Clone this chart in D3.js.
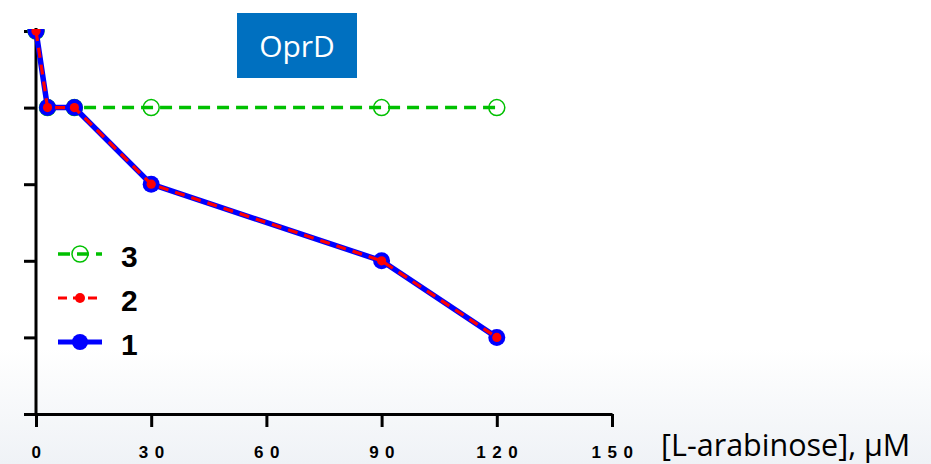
<!DOCTYPE html>
<html>
<head>
<meta charset="utf-8">
<script src="https://cdn.jsdelivr.net/npm/d3@7"></script>
<style>
html,body{margin:0;padding:0;background:#fff;}
svg{display:block;}
</style>
</head>
<body>
<svg id="chart" width="931" height="464"></svg>
<script>
// ---- data ----
const concentrations = [0, 3, 10, 30, 90, 120];
const series1 = [5, 4, 4, 3, 2, 1];   // blue solid, filled circles
const series2 = [5, 4, 4, 3, 2, 1];   // red dashed, small dots
const series3 = [5, 4, 4, 4, 4, 4];   // green dashed, open circles
const xTicks = [0, 30, 60, 90, 120, 150];
const yTicks = [0, 1, 2, 3, 4, 5];
const legendLabels = ["3", "2", "1"];
const titleText = "OprD";
const xLabel = "[L-arabinose], µM";

const svg = d3.select("#chart");
const W = 931, H = 464;

// background with light bottom gradient
const defs = svg.append("defs");
const grad = defs.append("linearGradient").attr("id", "bg").attr("x1", 0).attr("y1", 0).attr("x2", 0).attr("y2", 1);
grad.append("stop").attr("offset", "0").attr("stop-color", "#ffffff");
grad.append("stop").attr("offset", "0.75").attr("stop-color", "#ffffff");
grad.append("stop").attr("offset", "1").attr("stop-color", "#eff2f6");
svg.append("rect").attr("width", W).attr("height", H).attr("fill", "url(#bg)");

defs.append("clipPath").attr("id", "plotclip")
  .append("rect").attr("x", 0).attr("y", 29).attr("width", W).attr("height", H);

const x = d3.scaleLinear().domain([0, 150]).range([36, 612]);
const y = d3.scaleLinear().domain([0, 5]).range([414, 31]);

// axes
const xAxis = svg.append("g").attr("transform", `translate(0,${y(0)})`)
  .call(d3.axisBottom(x).tickValues(xTicks).tickSize(13).tickSizeOuter(0).tickFormat(""));
xAxis.select(".domain").attr("stroke", "#000").attr("stroke-width", 3);
xAxis.selectAll(".tick line").attr("stroke", "#000").attr("stroke-width", 3);

const yAxis = svg.append("g").attr("transform", `translate(${x(0)},0)`)
  .call(d3.axisLeft(y).tickValues(yTicks).tickSize(12).tickSizeOuter(0).tickFormat(""));
yAxis.select(".domain").attr("d", `M0,${y(0)}V${y(5) - 3}`).attr("stroke", "#000").attr("stroke-width", 3);
yAxis.selectAll(".tick line").attr("stroke", "#000").attr("stroke-width", 3);

// x tick labels
svg.append("g").selectAll("text").data(xTicks).join("text")
  .attr("x", d => x(d) + 3.5)
  .attr("y", 458)
  .attr("text-anchor", "middle")
  .attr("font-family", "Liberation Sans, Arial, sans-serif")
  .attr("font-weight", "bold")
  .attr("font-size", 17)
  .attr("letter-spacing", 6.5)
  .attr("fill", "#000")
  .text(d => String(d));

// x axis label
svg.append("text")
  .attr("x", 661).attr("y", 456)
  .attr("font-family", "Open Sans, sans-serif")
  .attr("font-size", 30.5)
  .attr("fill", "#000")
  .text(xLabel);

// title box
svg.append("rect").attr("x", 237).attr("y", 13).attr("width", 120).attr("height", 65).attr("fill", "#0070C0");
svg.append("text").attr("x", 297).attr("y", 57).attr("text-anchor", "middle")
  .attr("font-family", "Open Sans, sans-serif").attr("font-size", 30).attr("fill", "#fff").text(titleText);

// data
const pts = vals => concentrations.map((c, i) => [c, vals[i]]);
const line = d3.line().x(d => x(d[0])).y(d => y(d[1]));
const plot = svg.append("g").attr("clip-path", "url(#plotclip)");

// green
plot.append("path").datum(pts(series3)).attr("d", line)
  .attr("fill", "none").attr("stroke", "#00C000").attr("stroke-width", 3.5).attr("stroke-dasharray", "12,7");
plot.append("g").selectAll("circle").data(pts(series3)).join("circle")
  .attr("cx", d => x(d[0])).attr("cy", d => y(d[1])).attr("r", 8)
  .attr("fill", "none").attr("stroke", "#00C000").attr("stroke-width", 1.5);

// blue
plot.append("path").datum(pts(series1)).attr("d", line)
  .attr("fill", "none").attr("stroke", "#0000FF").attr("stroke-width", 5.5);
plot.append("g").selectAll("circle").data(pts(series1)).join("circle")
  .attr("cx", d => x(d[0])).attr("cy", d => y(d[1])).attr("r", 8.5).attr("fill", "#0000FF");

// red
plot.append("path").datum(pts(series2)).attr("d", line)
  .attr("fill", "none").attr("stroke", "#FF0000").attr("stroke-width", 3.2).attr("stroke-dasharray", "10,7");
plot.append("g").selectAll("circle").data(pts(series2)).join("circle")
  .attr("cx", d => x(d[0])).attr("cy", d => y(d[1])).attr("r", 4.6).attr("fill", "#FF0000");

// legend
const legY = [254, 298, 342];
const leg = svg.append("g");
// green
leg.append("line").attr("x1", 58).attr("x2", 102).attr("y1", legY[0]).attr("y2", legY[0])
  .attr("stroke", "#00C000").attr("stroke-width", 3.5).attr("stroke-dasharray", "12,7");
leg.append("circle").attr("cx", 80).attr("cy", legY[0]).attr("r", 8)
  .attr("fill", "none").attr("stroke", "#00C000").attr("stroke-width", 1.5);
// red
leg.append("line").attr("x1", 58).attr("x2", 102).attr("y1", legY[1]).attr("y2", legY[1])
  .attr("stroke", "#FF0000").attr("stroke-width", 3).attr("stroke-dasharray", "9,6");
leg.append("circle").attr("cx", 80).attr("cy", legY[1]).attr("r", 5).attr("fill", "#FF0000");
// blue
leg.append("line").attr("x1", 58).attr("x2", 102).attr("y1", legY[2]).attr("y2", legY[2])
  .attr("stroke", "#0000FF").attr("stroke-width", 5);
leg.append("circle").attr("cx", 80).attr("cy", legY[2]).attr("r", 8).attr("fill", "#0000FF");

leg.selectAll("text.lab").data(legendLabels).join("text").attr("class", "lab")
  .attr("x", 121).attr("y", (d, i) => legY[i] + 13)
  .attr("font-family", "Liberation Sans, Arial, sans-serif").attr("font-weight", "bold")
  .attr("font-size", 30).attr("fill", "#000").text(d => d);
</script>
</body>
</html>
